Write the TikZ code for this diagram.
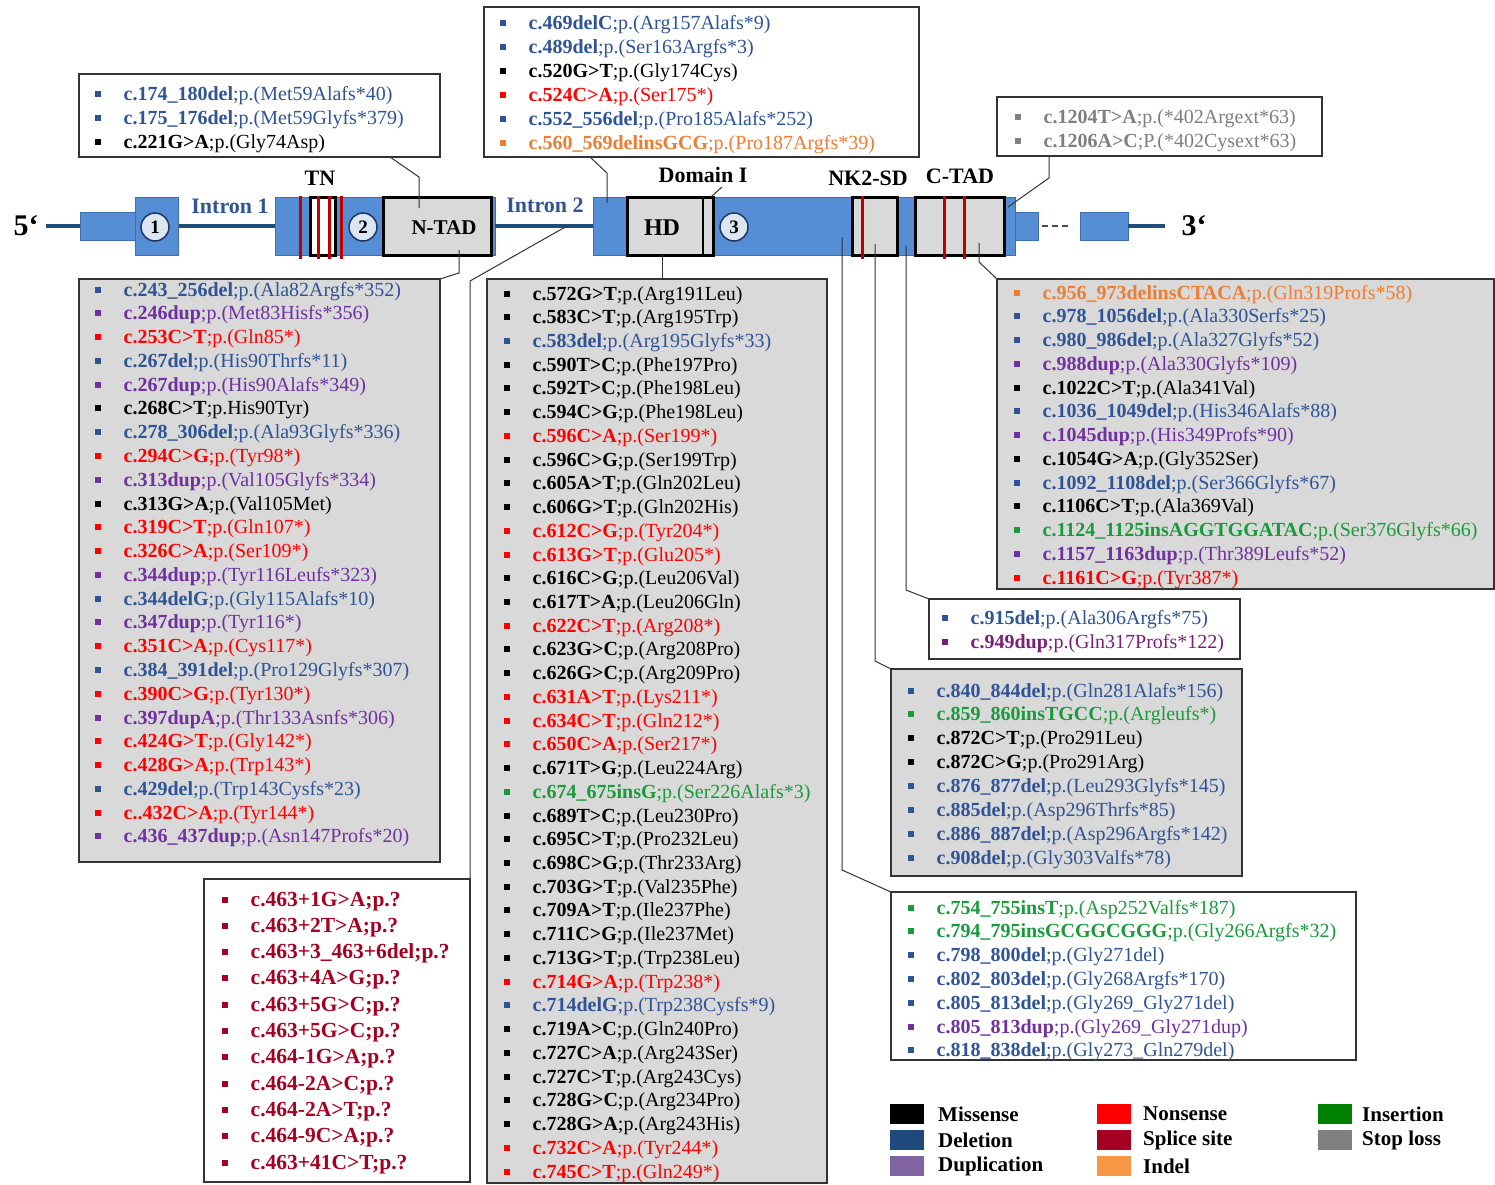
\documentclass[tikz,border=0pt]{standalone}
\usepackage{fontspec}
\setmainfont{Liberation Serif}
\usetikzlibrary{calc}

% mutation classes (text colours)
\definecolor{cmis}{HTML}{000000}
\definecolor{cdel}{HTML}{2E5496}
\definecolor{cdup}{HTML}{7030A0}
\definecolor{cdupdk}{HTML}{7A1E7C}
\definecolor{cnon}{HTML}{FF0000}
\definecolor{cspl}{HTML}{A50021}
\definecolor{cind}{HTML}{ED7D31}
\definecolor{cins}{HTML}{1A9B3B}
\definecolor{cstop}{HTML}{7F7F7F}
% legend swatches
\definecolor{lmis}{HTML}{000000}
\definecolor{ldel}{HTML}{1F497D}
\definecolor{ldup}{HTML}{8064A2}
\definecolor{lnon}{HTML}{FF0000}
\definecolor{lspl}{HTML}{A50021}
\definecolor{lind}{HTML}{F79646}
\definecolor{lins}{HTML}{008000}
\definecolor{lstop}{HTML}{808080}
% gene drawing
\definecolor{exonfill}{HTML}{558ED5}
\definecolor{exonedge}{HTML}{3E6EAE}
\definecolor{intronblue}{HTML}{1F4E79}
\definecolor{introntext}{HTML}{2F5597}
\definecolor{graypanel}{HTML}{D9D9D9}
\definecolor{paneledge}{HTML}{333333}
\definecolor{circfill}{HTML}{DCE6F2}
\definecolor{circedge}{HTML}{1F3864}
\definecolor{markred}{HTML}{C00000}

\tikzset{
  listbox/.style={draw=paneledge, line width=1.3pt, anchor=north west, inner sep=0pt, outer sep=0pt},
  graybox/.style={listbox, fill=graypanel},
  whitebox/.style={listbox, fill=white},
  mutline/.style={anchor=base west, inner sep=0pt, font=\fontsize{20}{24}\selectfont},
  conn/.style={draw=black!80, line width=1pt},
  exonbox/.style={draw=exonedge, fill=exonfill, line width=0.8pt, anchor=north west, inner sep=0pt, outer sep=0pt},
  dombox/.style={draw=black, fill=graypanel, line width=3pt, anchor=north west, inner sep=0pt, outer sep=0pt},
  intronline/.style={draw=intronblue, line width=4.5pt},
  redmark/.style={draw=markred, line width=3pt},
  exnum/.style={circle, draw=circedge, fill=circfill, line width=1.5pt, minimum size=28pt, inner sep=0pt, font=\fontsize{19}{19}\selectfont\bfseries},
  genelabel/.style={font=\fontsize{22}{22}\selectfont\bfseries, inner sep=0pt},
  endlabel/.style={font=\fontsize{30}{30}\selectfont\bfseries, inner sep=0pt},
  legsq/.style={anchor=north west, minimum width=35pt, minimum height=21pt, inner sep=0pt, draw=white, line width=0.6pt},
  legtext/.style={anchor=west, font=\fontsize{21}{21}\selectfont\bfseries, inner sep=0pt},
}

% one bulleted row per entry: colour / bold part / plain part
\newcommand\mutrows[5]{%
  \foreach [count=\k from 0] \mcol/\mbold/\mrest in {#5} {%
    \node[mutline, text=\mcol] (#1-\k) at (#2, #3+\k*#4)
      {\makebox[28.5pt][l]{\rule[3.5pt]{6pt}{6pt}}\textbf{\mbold}\mrest};
  }%
}

\begin{document}
\begin{tikzpicture}[x=1pt, y=-1pt]
\fill[white] (0,0) rectangle (1495,1184);
\useasboundingbox (0,0) rectangle (1495,1184);

% ---------------- gene structure ----------------
\node[endlabel] (five) at (26,226) {5‘};
\node[exonbox, minimum width=55pt, minimum height=28pt] (utr5) at (80,212) {};
\node[exonbox, minimum width=43pt, minimum height=58pt] (ex1) at (135,197) {};
\node[exonbox, minimum width=220pt, minimum height=58pt] (ex2) at (275,197) {};
\node[exonbox, minimum width=422pt, minimum height=58pt] (ex3) at (593,197) {};
\node[exonbox, minimum width=23pt, minimum height=28pt] (utr3a) at (1015,212) {};
\node[exonbox, minimum width=48pt, minimum height=28pt] (utr3b) at (1080,212) {};
\node[endlabel] (three) at (1194,226) {3‘};

\draw[intronline] ([xshift=7pt]five.east) -- (utr5.west);
\draw[intronline] (ex1.east) -- (ex2.west);
\draw[intronline] (ex2.east) -- (ex3.west);
\draw[intronline] (utr3b.east) -- ([xshift=-16pt]three.west);
\draw[black!70, line width=1.3pt, dash pattern=on 6pt off 4pt]
  ([xshift=4pt]utr3a.east) -- ([xshift=-8pt]utr3b.west);

% exons redrawn over the intron line ends
\node[exonbox, minimum width=55pt, minimum height=28pt] at (80,212) {};
\node[exonbox, minimum width=43pt, minimum height=58pt] at (135,197) {};

% protein domains
\node[dombox, fill=white, minimum width=25pt, minimum height=58pt] (tn) at (310,197) {};
\node[dombox, minimum width=108pt, minimum height=58pt] (ntad) at (383,197) {};
\node[dombox, minimum width=86pt, minimum height=58pt] (hd) at (627,197) {};
\draw[black, line width=2pt] ([xshift=-10pt]hd.north east) -- ([xshift=-10pt]hd.south east);
\node[dombox, minimum width=45pt, minimum height=58pt] (nk2) at (852,197) {};
\node[dombox, minimum width=89pt, minimum height=58pt] (ctad) at (915,197) {};

% variant hot-spot marks
\foreach \mx in {300,318,329,341,862,944,964}
  \draw[redmark] (\mx,196) -- (\mx,259);

% exon numbers
\node[exnum] (n1) at (155,227) {1};
\node[exnum] (n2) at (363,227) {2};
\node[exnum] (n3) at (734,227) {3};

% labels
\node[genelabel] (lbtn) at (320,178) {TN};
\node[genelabel, text=introntext] (lbi1) at (230,206) {Intron 1};
\node[genelabel, text=introntext] (lbi2) at (545,205) {Intron 2};
\node[genelabel] (lbdom) at (703,175) {Domain I};
\node[genelabel] (lbnk) at (868,178) {NK2-SD};
\node[genelabel] (lbct) at (960,176) {C-TAD};
\node[font=\fontsize{21}{21}\selectfont\bfseries, inner sep=0pt] (lbntad) at (444,228) {N-TAD};
\node[font=\fontsize{24}{24}\selectfont\bfseries, inner sep=0pt] (lbhd) at (662,228) {HD};

% ---------------- variant panels ----------------
\node[whitebox, minimum width=361pt, minimum height=83pt] (boxA) at (79,74) {};
\node[whitebox, minimum width=435pt, minimum height=150pt] (boxB) at (484,7) {};
\node[whitebox, minimum width=325pt, minimum height=59pt] (boxC) at (997,97) {};
\node[graybox, minimum width=361pt, minimum height=583pt] (boxD) at (79,279) {};
\node[whitebox, minimum width=266pt, minimum height=303pt] (boxE) at (204,879) {};
\node[graybox, minimum width=340pt, minimum height=904pt] (boxF) at (487,279) {};
\node[graybox, minimum width=497pt, minimum height=310pt] (boxG) at (997,279) {};
\node[whitebox, minimum width=311pt, minimum height=60pt] (boxH) at (929,599) {};
\node[graybox, minimum width=351pt, minimum height=207pt] (boxI) at (891,669) {};
\node[whitebox, minimum width=465pt, minimum height=168pt] (boxJ) at (891,892) {};

% ---------------- connectors ----------------
\draw[conn] ([xshift=311pt]boxA.south west) -- ++(29,20) -- ([xshift=36pt,yshift=-11pt]ntad.north west);
\draw[conn] ([xshift=106pt]boxB.south west) -- ++(17,16) -- ([xshift=14pt,yshift=-6pt]ex3.north west);
\draw[conn] ([xshift=52pt]boxC.south west) -- ++(0,22) -- ([xshift=-7pt,yshift=-10pt]ex3.north east);
\draw[conn] ([xshift=-2pt]hd.north east) -- ++(11,-10);
\draw[conn] ([xshift=-32pt,yshift=5pt]ntad.south east) -- ++(0,23) -- (boxD.north east);
\draw[conn] ([xshift=72pt]ex2.east) -- ++(-97,55) -- (boxE.north east);
\draw[conn] ([xshift=35pt]hd.south west) -- ([xshift=175pt]boxF.north west);
\draw[conn] ([xshift=-25pt,yshift=12pt]ctad.south east) -- ++(0,19) -- (boxG.north west);
\draw[conn] ([xshift=-109pt,yshift=9pt]ex3.south east) -- ++(0,344) -- (boxH.north west);
\draw[conn] ([xshift=-22pt,yshift=11pt]nk2.south east) -- ++(0,417) -- (boxI.north west);
\draw[conn] ([xshift=249pt,yshift=18pt]ex3.south west) -- ++(0,633) -- (boxJ.north west);

% ---------------- variant lists ----------------
\mutrows{ra}{95}{100}{24}{%
  cdel/c.174\_180del/;p.(Met59Alafs*40),
  cdel/c.175\_176del/;p.(Met59Glyfs*379),
  cmis/c.221G>A/;p.(Gly74Asp)}

\mutrows{rb}{500}{29}{24}{%
  cdel/c.469delC/;p.(Arg157Alafs*9),
  cdel/c.489del/;p.(Ser163Argfs*3),
  cmis/c.520G>T/;p.(Gly174Cys),
  cnon/c.524C>A/;p.(Ser175*),
  cdel/c.552\_556del/;p.(Pro185Alafs*252),
  cind/c.560\_569delinsGCG/;p.(Pro187Argfs*39)}

\mutrows{rc}{1015}{123}{24}{%
  cstop/c.1204T>A/;p.(*402Argext*63),
  cstop/c.1206A>C/;P.(*402Cysext*63)}

\mutrows{rd}{95}{296}{23.78}{%
  cdel/c.243\_256del/;p.(Ala82Argfs*352),
  cdup/c.246dup/;p.(Met83Hisfs*356),
  cnon/c.253C>T/;p.(Gln85*),
  cdel/c.267del/;p.(His90Thrfs*11),
  cdup/c.267dup/;p.(His90Alafs*349),
  cmis/c.268C>T/;p.His90Tyr),
  cdel/c.278\_306del/;p.(Ala93Glyfs*336),
  cnon/c.294C>G/;p.(Tyr98*),
  cdup/c.313dup/;p.(Val105Glyfs*334),
  cmis/c.313G>A/;p.(Val105Met),
  cnon/c.319C>T/;p.(Gln107*),
  cnon/c.326C>A/;p.(Ser109*),
  cdup/c.344dup/;p.(Tyr116Leufs*323),
  cdel/c.344delG/;p.(Gly115Alafs*10),
  cdup/c.347dup/;p.(Tyr116*),
  cnon/c.351C>A/;p.(Cys117*),
  cdel/c.384\_391del/;p.(Pro129Glyfs*307),
  cnon/c.390C>G/;p.(Tyr130*),
  cdup/c.397dupA/;p.(Thr133Asnfs*306),
  cnon/c.424G>T/;p.(Gly142*),
  cnon/c.428G>A/;p.(Trp143*),
  cdel/c.429del/;p.(Trp143Cysfs*23),
  cnon/c..432C>A/;p.(Tyr144*),
  cdup/c.436\_437dup/;p.(Asn147Profs*20)}

% splice-site variants are set a little larger
\begin{scope}[mutline/.append style={font=\fontsize{21.5}{26}\selectfont}]
\mutrows{re}{222}{906}{26.3}{%
  cspl/c.463+1G>A;p.?/{},
  cspl/c.463+2T>A;p.?/{},
  cspl/c.463+3\_463+6del;p.?/{},
  cspl/c.463+4A>G;p.?/{},
  cspl/c.463+5G>C;p.?/{},
  cspl/c.463+5G>C;p.?/{},
  cspl/c.464-1G>A;p.?/{},
  cspl/c.464-2A>C;p.?/{},
  cspl/c.464-2A>T;p.?/{},
  cspl/c.464-9C>A;p.?/{},
  cspl/c.463+41C>T;p.?/{}}
\end{scope}

\mutrows{rf}{504}{300}{23.73}{%
  cmis/c.572G>T/;p.(Arg191Leu),
  cmis/c.583C>T/;p.(Arg195Trp),
  cdel/c.583del/;p.(Arg195Glyfs*33),
  cmis/c.590T>C/;p.(Phe197Pro),
  cmis/c.592T>C/;p.(Phe198Leu),
  cmis/c.594C>G/;p.(Phe198Leu),
  cnon/c.596C>A/;p.(Ser199*),
  cmis/c.596C>G/;p.(Ser199Trp),
  cmis/c.605A>T/;p.(Gln202Leu),
  cmis/c.606G>T/;p.(Gln202His),
  cnon/c.612C>G/;p.(Tyr204*),
  cnon/c.613G>T/;p.(Glu205*),
  cmis/c.616C>G/;p.(Leu206Val),
  cmis/c.617T>A/;p.(Leu206Gln),
  cnon/c.622C>T/;p.(Arg208*),
  cmis/c.623G>C/;p.(Arg208Pro),
  cmis/c.626G>C/;p.(Arg209Pro),
  cnon/c.631A>T/;p.(Lys211*),
  cnon/c.634C>T/;p.(Gln212*),
  cnon/c.650C>A/;p.(Ser217*),
  cmis/c.671T>G/;p.(Leu224Arg),
  cins/c.674\_675insG/;p.(Ser226Alafs*3),
  cmis/c.689T>C/;p.(Leu230Pro),
  cmis/c.695C>T/;p.(Pro232Leu),
  cmis/c.698C>G/;p.(Thr233Arg),
  cmis/c.703G>T/;p.(Val235Phe),
  cmis/c.709A>T/;p.(Ile237Phe),
  cmis/c.711C>G/;p.(Ile237Met),
  cmis/c.713G>T/;p.(Trp238Leu),
  cnon/c.714G>A/;p.(Trp238*),
  cdel/c.714delG/;p.(Trp238Cysfs*9),
  cmis/c.719A>C/;p.(Gln240Pro),
  cmis/c.727C>A/;p.(Arg243Ser),
  cmis/c.727C>T/;p.(Arg243Cys),
  cmis/c.728G>C/;p.(Arg234Pro),
  cmis/c.728G>A/;p.(Arg243His),
  cnon/c.732C>A/;p.(Tyr244*),
  cnon/c.745C>T/;p.(Gln249*)}

\mutrows{rg}{1014}{299}{23.75}{%
  cind/c.956\_973delinsCTACA/;p.(Gln319Profs*58),
  cdel/c.978\_1056del/;p.(Ala330Serfs*25),
  cdel/c.980\_986del/;p.(Ala327Glyfs*52),
  cdup/c.988dup/;p.(Ala330Glyfs*109),
  cmis/c.1022C>T/;p.(Ala341Val),
  cdel/c.1036\_1049del/;p.(His346Alafs*88),
  cdup/c.1045dup/;p.(His349Profs*90),
  cmis/c.1054G>A/;p.(Gly352Ser),
  cdel/c.1092\_1108del/;p.(Ser366Glyfs*67),
  cmis/c.1106C>T/;p.(Ala369Val),
  cins/c.1124\_1125insAGGTGGATAC/;p.(Ser376Glyfs*66),
  cdup/c.1157\_1163dup/;p.(Thr389Leufs*52),
  cnon/c.1161C>G/;p.(Tyr387*)}

\mutrows{rh}{942}{624}{24}{%
  cdel/c.915del/;p.(Ala306Argfs*75),
  cdupdk/c.949dup/;p.(Gln317Profs*122)}

\mutrows{ri}{908}{697}{23.86}{%
  cdel/c.840\_844del/;p.(Gln281Alafs*156),
  cins/c.859\_860insTGCC/;p.(Argleufs*),
  cmis/c.872C>T/;p.(Pro291Leu),
  cmis/c.872C>G/;p.(Pro291Arg),
  cdel/c.876\_877del/;p.(Leu293Glyfs*145),
  cdel/c.885del/;p.(Asp296Thrfs*85),
  cdel/c.886\_887del/;p.(Asp296Argfs*142),
  cdel/c.908del/;p.(Gly303Valfs*78)}

\mutrows{rj}{908}{914}{23.8}{%
  cins/c.754\_755insT/;p.(Asp252Valfs*187),
  cins/c.794\_795insGCGGCGGG/;p.(Gly266Argfs*32),
  cdel/c.798\_800del/;p.(Gly271del),
  cdel/c.802\_803del/;p.(Gly268Argfs*170),
  cdel/c.805\_813del/;p.(Gly269\_Gly271del),
  cdup/c.805\_813dup/;p.(Gly269\_Gly271dup),
  cdel/c.818\_838del/;p.(Gly273\_Gln279del)}

% ---------------- legend ----------------
\node[legsq, fill=lmis] (sqmis) at (889,1103) {};
\node[legsq, fill=ldel] (sqdel) at (889,1129) {};
\node[legsq, fill=ldup] (sqdup) at (889,1155) {};
\node[legsq, fill=lnon] (sqnon) at (1096,1103) {};
\node[legsq, fill=lspl] (sqspl) at (1096,1129) {};
\node[legsq, fill=lind] (sqind) at (1096,1155) {};
\node[legsq, fill=lins] (sqins) at (1317,1103) {};
\node[legsq, fill=lstop] (sqstop) at (1317,1129) {};
\node[legtext] (tmis) at (938,1114) {Missense};
\node[legtext] (tdel) at (938,1140) {Deletion};
\node[legtext] (tdup) at (938,1166) {Duplication};
\node[legtext] (tnon) at (1143,1114) {Nonsense};
\node[legtext] (tspl) at (1143,1140) {Splice site};
\node[legtext] (tind) at (1143,1166) {Indel};
\node[legtext] (tins) at (1362,1114) {Insertion};
\node[legtext] (tstop) at (1362,1140) {Stop loss};
\end{tikzpicture}
\end{document}
